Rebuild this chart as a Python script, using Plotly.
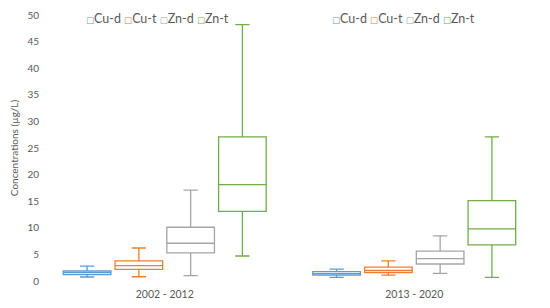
import plotly.graph_objects as go

periods = ["2002 - 2012", "2013 - 2020"]
metals = ["Cu-d", "Cu-t", "Zn-d", "Zn-t"]
colors = ["#5B9BD5", "#ED7D31", "#A5A5A5", "#70AD47"]

# per metal: [period 1, period 2]
lower = {"Cu-d": [0.75, 0.7], "Cu-t": [0.8, 1.1], "Zn-d": [1.0, 1.45], "Zn-t": [4.7, 0.7]}
q1 = {"Cu-d": [1.2, 1.1], "Cu-t": [2.2, 1.6], "Zn-d": [5.3, 3.2], "Zn-t": [13.1, 6.8]}
median = {"Cu-d": [1.6, 1.4], "Cu-t": [2.9, 2.0], "Zn-d": [7.1, 4.2], "Zn-t": [18.1, 9.8]}
q3 = {"Cu-d": [1.9, 1.75], "Cu-t": [3.8, 2.6], "Zn-d": [10.1, 5.6], "Zn-t": [27.1, 15.1]}
upper = {"Cu-d": [2.8, 2.25], "Cu-t": [6.2, 3.8], "Zn-d": [17.1, 8.5], "Zn-t": [48.2, 27.1]}

fig = go.Figure()

for i, period in enumerate(periods):
    for m, c in zip(metals, colors):
        fig.add_trace(go.Box(
            x=[period],
            q1=[q1[m][i]],
            median=[median[m][i]],
            q3=[q3[m][i]],
            lowerfence=[lower[m][i]],
            upperfence=[upper[m][i]],
            name=m,
            offsetgroup=m,
            showlegend=False,
            line=dict(color=c, width=1.3),
            fillcolor="white",
            whiskerwidth=0.3,
            hoverinfo="skip"
        ))

# compact excel-style legend, one per period
legend_text = " ".join(
    f"<span style='color:{c};font-family:DejaVu Sans;font-size:8.5px'>□</span>{m}"
    for m, c in zip(metals, colors)
)
for lx in [0.235, 0.728]:
    fig.add_annotation(
        x=lx, y=0.985, xref="paper", yref="paper",
        xanchor="center", yanchor="middle",
        text=legend_text, showarrow=False,
        font=dict(size=12.5, color="#595959")
    )

# page body adds an 8px offset, so the figure is 8px smaller and margins shifted
fig.update_layout(
    width=542,
    height=300,
    margin=dict(l=32, r=11, t=7, b=27, autoexpand=False),
    template="plotly_white",
    plot_bgcolor="white",
    paper_bgcolor="white",
    font=dict(family="Lato", color="#595959"),
    boxmode="group",
    boxgap=0.17,
    boxgroupgap=0.08,
    xaxis=dict(
        showgrid=False,
        showline=False,
        zeroline=False,
        tickfont=dict(size=10.5, color="#595959"),
        ticks="",
        ticklabelstandoff=5
    ),
    yaxis=dict(
        range=[0, 50],
        dtick=5,
        showgrid=False,
        showline=False,
        zeroline=False,
        tickfont=dict(size=10, color="#595959"),
        title=dict(text="Concentrations (µg/L)", font=dict(size=10, color="#595959"), standoff=8)
    )
)

fig.write_html("out.html")
